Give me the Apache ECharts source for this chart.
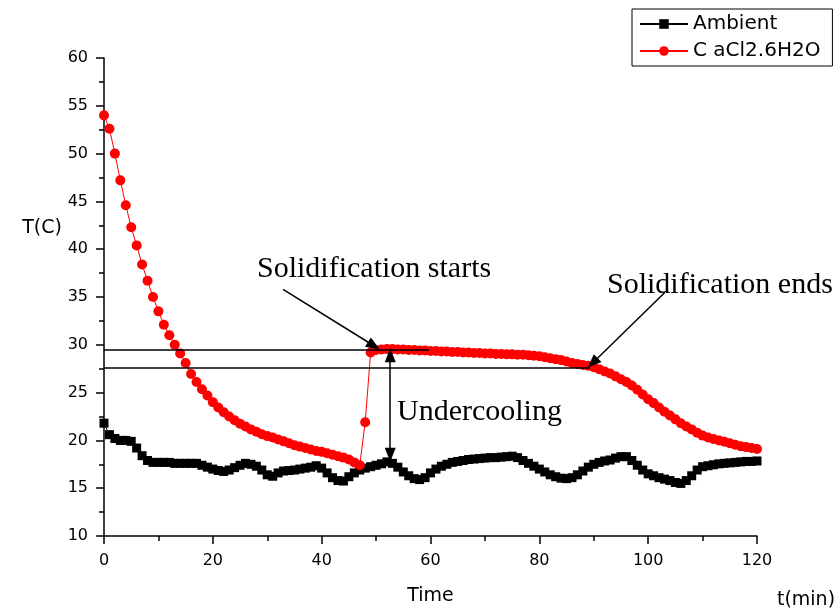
<!DOCTYPE html>
<html><head><meta charset="utf-8">
<script src="https://cdn.jsdelivr.net/npm/echarts@6/dist/echarts.min.js"></script>
<style>html,body{margin:0;padding:0;background:#fff}#c{width:838px;height:611px}</style>
</head><body><div id="c"></div>
<script>
// time in minutes
const times = [0,1,2,3,4,5,6,7,8,9,10,11,12,13,14,15,16,17,18,19,20,21,22,23,24,25,26,27,28,29,30,
  31,32,33,34,35,36,37,38,39,40,41,42,43,44,45,46,47,48,49,50,51,52,53,54,55,56,57,58,59,60,
  61,62,63,64,65,66,67,68,69,70,71,72,73,74,75,76,77,78,79,80,81,82,83,84,85,86,87,88,89,90,
  91,92,93,94,95,96,97,98,99,100,101,102,103,104,105,106,107,108,109,110,111,112,113,114,115,116,117,118,119,120];

const ambient = [21.8,20.6,20.2,20.0,20.0,19.9,19.2,18.4,17.9,17.7,17.7,17.7,17.7,17.6,17.6,17.6,17.6,17.6,17.4,17.2,17.0,
  16.85,16.75,16.9,17.15,17.4,17.6,17.5,17.3,16.9,16.4,16.25,16.6,16.8,16.85,16.9,17.0,17.1,17.2,17.35,17.1,
  16.6,16.1,15.8,15.75,16.2,16.6,16.9,17.1,17.25,17.4,17.55,17.75,17.6,17.2,16.7,16.3,16.0,15.9,16.1,16.6,
  17.0,17.3,17.5,17.7,17.8,17.9,18.0,18.05,18.1,18.15,18.2,18.2,18.25,18.3,18.35,18.2,17.9,17.6,17.3,17.0,
  16.7,16.4,16.2,16.05,16.0,16.1,16.4,16.8,17.2,17.5,17.7,17.85,17.95,18.15,18.3,18.3,17.9,17.4,16.9,16.5,
  16.3,16.1,15.95,15.8,15.6,15.5,15.8,16.3,16.9,17.25,17.35,17.45,17.55,17.6,17.65,17.7,17.75,17.8,17.8,17.85];

const cacl = [54.0,52.6,50.0,47.2,44.6,42.3,40.4,38.4,36.7,35.0,33.5,32.1,31.0,30.0,29.1,28.1,26.95,26.1,25.35,24.7,24.0,
  23.45,22.95,22.5,22.1,21.75,21.45,21.15,20.9,20.65,20.45,20.3,20.1,19.9,19.7,19.5,19.35,19.2,19.05,18.9,18.8,
  18.65,18.5,18.35,18.2,18.0,17.7,17.4,21.9,29.2,29.45,29.5,29.55,29.55,29.5,29.5,29.45,29.45,29.4,29.4,29.35,
  29.35,29.3,29.3,29.25,29.25,29.2,29.2,29.15,29.15,29.1,29.1,29.05,29.05,29.0,29.0,28.95,28.95,28.9,28.85,28.8,
  28.7,28.6,28.5,28.4,28.25,28.1,28.0,27.9,27.8,27.65,27.45,27.2,27.0,26.7,26.4,26.1,25.75,25.3,24.8,24.3,
  23.9,23.45,23.0,22.6,22.2,21.8,21.45,21.15,20.8,20.5,20.3,20.15,20.0,19.85,19.7,19.55,19.4,19.3,19.2,19.1];

const seriesNames = ['Ambient', 'C aCl2.6H2O'];

// annotation geometry in data units [t, T]
const startLine = [[0, 29.45], [59.7, 29.45]];
const endLine = [[0, 27.55], [89.3, 27.55]];
const startArrow = [[32.9, 35.8], [49.6, 29.9]];
const endArrow = [[103.1, 35.5], [89.8, 28.1]];
const underArrow = [[52.6, 28.9], [52.6, 18.5]];

const chart = echarts.init(document.getElementById('c'), null, {renderer: 'canvas'});

function pair(xs, ys) { return xs.map((x, i) => [x, ys[i]]); }
function seg(p, s0, s1) {
  return [{coord: p[0], symbol: s0}, {coord: p[1], symbol: s1}];
}

const axisBase = {
  axisLine: {show: true, onZero: false, lineStyle: {color: '#000', width: 1.5}},
  axisTick: {show: true, inside: false, length: 8, lineStyle: {color: '#000', width: 1.5}},
  minorTick: {show: true, splitNumber: 2, length: 5, lineStyle: {color: '#000', width: 1.5}},
  splitLine: {show: false},
  minorSplitLine: {show: false}
};

chart.setOption({
  animation: false,
  backgroundColor: '#fff',
  grid: {left: 104, right: 81, top: 58, bottom: 73, containLabel: false},
  xAxis: Object.assign({
    type: 'value', min: 0, max: 120, interval: 20,
    axisLabel: {color: '#000', fontFamily: 'DejaVu Sans', fontSize: 16, margin: 17},
    name: 'Time', nameLocation: 'middle', nameGap: 51,
    nameTextStyle: {color: '#000', fontFamily: 'DejaVu Sans', fontSize: 19}
  }, axisBase),
  yAxis: Object.assign({
    type: 'value', min: 10, max: 60, interval: 5,
    axisLabel: {color: '#000', fontFamily: 'DejaVu Sans', fontSize: 16, margin: 16}
  }, axisBase),
  legend: {
    orient: 'vertical', left: 632, top: 9,
    padding: [5, 12, 5, 7], itemGap: 7, itemWidth: 48, itemHeight: 12,
    borderColor: '#000', borderWidth: 1,
    textStyle: {color: '#000', fontFamily: 'DejaVu Sans', fontSize: 20},
    data: seriesNames
  },
  series: [
    {
      name: seriesNames[0], type: 'line', data: pair(times, ambient),
      symbol: 'rect', symbolSize: 9, showAllSymbol: true,
      itemStyle: {color: '#000'}, lineStyle: {color: '#000', width: 1},
      z: 2,
      markLine: {
        silent: true, animation: false, z: 5,
        label: {show: false},
        symbolSize: [11, 14],
        lineStyle: {color: '#000', width: 1.5, type: 'solid'},
        emphasis: {disabled: true},
        data: [
          seg(startLine, 'none', 'none'),
          seg(endLine, 'none', 'none'),
          seg(startArrow, 'none', 'triangle'),
          seg(endArrow, 'none', 'triangle'),
          seg(underArrow, 'triangle', 'triangle')
        ]
      }
    },
    {
      name: seriesNames[1], type: 'line', data: pair(times, cacl),
      symbol: 'circle', symbolSize: 10, showAllSymbol: true,
      itemStyle: {color: '#ff0000'}, lineStyle: {color: '#ff0000', width: 1},
      z: 3
    }
  ],
  graphic: [
    {type: 'text', x: 257, y: 269, style: {text: 'Solidification starts', font: '30px "Liberation Serif"', fill: '#000', align: 'left', verticalAlign: 'middle'}},
    {type: 'text', x: 607, y: 285, style: {text: 'Solidification ends', font: '30px "Liberation Serif"', fill: '#000', align: 'left', verticalAlign: 'middle'}},
    {type: 'text', x: 397, y: 412, style: {text: 'Undercooling', font: '30px "Liberation Serif"', fill: '#000', align: 'left', verticalAlign: 'middle'}},
    {type: 'text', x: 42, y: 228, style: {text: 'T(C)', font: '19px "DejaVu Sans"', fill: '#000', align: 'center', verticalAlign: 'middle'}},
    {type: 'text', x: 806, y: 600, style: {text: 't(min)', font: '19px "DejaVu Sans"', fill: '#000', align: 'center', verticalAlign: 'middle'}}
  ]
});
</script>
</body></html>
